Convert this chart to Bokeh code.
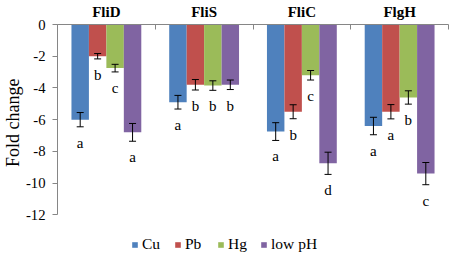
from bokeh.plotting import figure
from bokeh.models import (Range1d, LinearAxis, FixedTicker, Whisker, TeeHead,
                          ColumnDataSource, Legend, LegendItem, Title)
from bokeh.core.properties import value
from bokeh.embed import file_html
from bokeh.resources import INLINE

genes = ["FliD", "FliS", "FliC", "FlgH"]
treatments = ["Cu", "Pb", "Hg", "low pH"]
colors = ["#4F81BD", "#C0504D", "#9BBB59", "#8064A2"]

cu = [-6.0, -4.9, -6.75, -6.4]
pb = [-2.0, -3.8, -5.5, -5.5]
hg = [-2.75, -3.85, -3.2, -4.6]
lowph = [-6.8, -3.8, -8.75, -9.4]

cu_err = [0.45, 0.43, 0.56, 0.55]
pb_err = [0.17, 0.33, 0.44, 0.45]
hg_err = [0.24, 0.3, 0.3, 0.42]
lowph_err = [0.56, 0.3, 0.7, 0.7]

cu_letters = ["a", "a", "a", "a"]
pb_letters = ["b", "b", "b", "a"]
hg_letters = ["c", "b", "c", "b"]
lowph_letters = ["a", "b", "d", "c"]

y_ticks = [0, -2, -4, -6, -8, -10, -12]
y_tick_labels = ["0", "-2", "-4", "-6", "-8", "-10", "-12"]
y_label = "Fold change"

series = [cu, pb, hg, lowph]
errors = [cu_err, pb_err, hg_err, lowph_err]
letters = [cu_letters, pb_letters, hg_letters, lowph_letters]

FONT = "'Liberation Serif', serif"
GRAY = "#868686"

p = figure(width=449, height=255, output_backend="svg", toolbar_location=None,
           x_range=Range1d(0, len(genes)), y_range=Range1d(-14.5, 0),
           x_axis_location=None, y_axis_location=None,
           min_border_left=55, min_border_right=1, min_border_top=22,
           min_border_bottom=1)
p.outline_line_color = None
p.grid.visible = False
p.background_fill_color = "white"

bar_w = 0.1786
offsets = [-1.5 * bar_w, -0.5 * bar_w, 0.5 * bar_w, 1.5 * bar_w]

renderers = []
for k in range(len(treatments)):
    xs = [i + 0.5 + offsets[k] for i in range(len(genes))]
    vals = series[k]
    errs = errors[k]
    src = ColumnDataSource(dict(
        x=xs, top=vals,
        upper=[v + e for v, e in zip(vals, errs)],
        lower=[v - e for v, e in zip(vals, errs)],
        letter=letters[k]))
    r = p.vbar(x="x", top="top", bottom=0, width=bar_w, source=src,
               fill_color=colors[k], line_color=None)
    renderers.append(r)
    w = Whisker(base="x", upper="upper", lower="lower", source=src,
                line_color="black", line_width=1, level="overlay",
                upper_head=TeeHead(size=7, line_color="black", line_width=1),
                lower_head=TeeHead(size=7, line_color="black", line_width=1))
    p.add_layout(w)
    p.text(x="x", y="lower", text="letter", source=src, text_align="center",
           text_baseline="alphabetic", y_offset=16,
           text_font=value(FONT), text_font_size="15px", text_color="black")

# top category axis
top_axis = LinearAxis(
    ticker=FixedTicker(ticks=[i + 0.5 for i in range(len(genes))],
                       minor_ticks=list(range(len(genes) + 1))),
    major_label_overrides={i + 0.5: g for i, g in enumerate(genes)},
    major_tick_line_color=None, major_tick_in=0, major_tick_out=0,
    minor_tick_line_color=GRAY, minor_tick_in=5, minor_tick_out=0,
    axis_line_color=GRAY, major_label_standoff=5,
    major_label_text_font=FONT, major_label_text_font_size="15px",
    major_label_text_font_style="bold", major_label_text_color="black")
p.add_layout(top_axis, "above")

left_axis = LinearAxis(
    ticker=FixedTicker(ticks=y_ticks, minor_ticks=[]), bounds=(-12, 0),
    major_label_overrides={t: s for t, s in zip(y_ticks, y_tick_labels)},
    major_tick_line_color=GRAY, major_tick_in=0, major_tick_out=5,
    axis_line_color=GRAY, major_label_standoff=7,
    major_label_text_font=FONT, major_label_text_font_size="14.7px",
    major_label_text_color="black")
p.add_layout(left_axis, "left")

ylab = Title(text=y_label, align="right", offset=54, standoff=0,
             text_font=FONT, text_font_size="18px", text_font_style="normal",
             text_color="black")
p.add_layout(ylab, "left")

legend = Legend(items=[LegendItem(label=t, renderers=[r])
                       for t, r in zip(treatments, renderers)],
                orientation="horizontal", location=(74, 1),
                glyph_width=7, glyph_height=7, label_standoff=4, spacing=12,
                padding=0, margin=0, border_line_color=None,
                background_fill_alpha=0,
                label_text_font=FONT, label_text_font_size="15.5px",
                label_text_color="black")
p.add_layout(legend, "center")

open("out.html", "w").write(file_html(p, INLINE))
